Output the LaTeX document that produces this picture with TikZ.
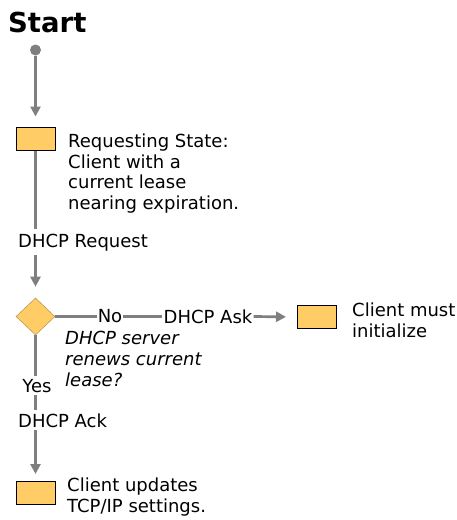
\documentclass[tikz,border=0pt]{standalone}
\usepackage{fontspec}
\setmainfont{DejaVu Sans}
\usetikzlibrary{arrows.meta,shapes.geometric}

\definecolor{flowline}{HTML}{7F7F7F}
\definecolor{stepfill}{HTML}{FFCC66}

\begin{document}
\begin{tikzpicture}[x=1pt,y=-1pt,
  flow/.style={draw=flowline,line width=2.7pt},
  arr/.style={flow,-{Triangle[length=10pt,width=10pt]}},
  statebox/.style={rectangle,draw=black,line width=1pt,fill=stepfill,
    minimum width=39pt,minimum height=23pt,inner sep=0pt},
  decision/.style={diamond,draw=stepfill!75!black,line width=0.6pt,fill=stepfill,
    minimum width=39pt,minimum height=37pt,inner sep=0pt},
  startdot/.style={circle,fill=flowline,minimum size=11pt,inner sep=0pt},
  txt/.style={font=\fontsize{18}{20.5}\selectfont,inner sep=0pt,align=left,anchor=north west},
  lbl/.style={font=\fontsize{18}{20}\selectfont,inner sep=0pt},
  hlbl/.style={lbl,inner sep=1pt}]
\useasboundingbox (0,0) rectangle (456,520);

% title
\node[anchor=base west,inner sep=0pt,font=\fontsize{27.5}{30}\selectfont\bfseries] (title) at (8,32) {Start};

% states and decision
\node[startdot] (start) at (35.5,50) {};
\node[statebox] (box1) at (35.5,138.5) {};
\node[decision] (dia) at (35.5,316.5) {};
\node[statebox] (box2) at (317,317) {};
\node[statebox] (box3) at (35.5,493) {};

% descriptions
\node[txt] (t1) at (68,134) {Requesting State:\\Client with a\\current lease\\nearing expiration.};
\node[txt] (t2) at (352,303) {Client must\\initialize};
\node[txt,font=\fontsize{18}{21}\selectfont\itshape] (t3) at (65,331) {DHCP server\\renews current\\lease?};
\node[txt] (t4) at (67,478) {Client updates\\TCP/IP settings.};

% connector labels
\node[lbl,anchor=base west] (req) at (18,247) {DHCP Request};
\node[hlbl] (no) at (110,316.5) {No};
\node[hlbl] (ask) at (208,316.5) {DHCP Ask};
\node[lbl,anchor=base] (yes) at (37,392) {Yes};
\node[lbl,anchor=base west] (ack) at (18,427) {DHCP Ack};

% connectors
\draw[arr,shorten >=10pt] (start) -- (box1);
\draw[flow,shorten >=4pt] (box1.south) -- (box1.south |- req.north);
\draw[arr,shorten <=4pt,shorten >=11pt] (box1.south |- req.south) -- (dia.north);
\draw[flow] (dia.east) -- (no.west);
\draw[flow] (no.east) -- (ask.west);
\draw[arr,shorten >=11pt] (ask.east) -- (box2.west);
\draw[flow,shorten >=3pt] (dia.south) -- (dia.south |- yes.north);
\draw[flow,shorten <=3pt,shorten >=3pt] (dia.south |- yes.south) -- (dia.south |- ack.north);
\draw[arr,shorten <=3pt,shorten >=7pt] (dia.south |- ack.south) -- (box3.north);
\end{tikzpicture}
\end{document}
